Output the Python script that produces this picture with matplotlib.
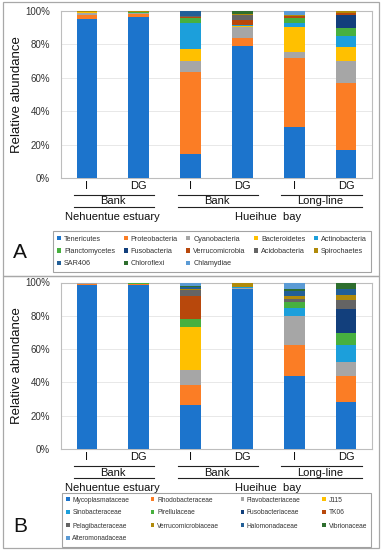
import matplotlib
matplotlib.use("Agg")
import matplotlib.pyplot as plt
from matplotlib.patches import Patch, Rectangle
from matplotlib.ticker import FuncFormatter
import matplotlib.transforms as mtrans
import numpy as np

plt.rcParams['font.family'] = ['Liberation Sans', 'DejaVu Sans']

# ---------------- data ----------------
sample_labels = ["I", "DG", "I", "DG", "I", "DG"]
method_groups = ["Bank", "Bank", "Long-line"]
method_spans = [(0, 1), (2, 3), (4, 5)]
site_groups = ["Nehuentue estuary", "Hueihue  bay"]
site_spans = [(0, 1), (2, 5)]

phyla = ["Tenericutes", "Proteobacteria", "Cyanobacteria", "Bacteroidetes",
         "Actinobacteria", "Planctomycetes", "Fusobacteria", "Verrucomicrobia",
         "Acidobacteria", "Spirochaetes", "SAR406", "Chloroflexi", "Chlamydiae"]
tenericutes = [95.0, 96.6, 14.3, 79.3, 30.3, 16.5]
proteobacteria = [2.6, 1.6, 49.4, 4.8, 41.6, 40.2]
cyanobacteria = [1.0, 0.4, 6.4, 6.6, 3.4, 13.3]
bacteroidetes = [0.6, 0.4, 7.0, 0.6, 15.0, 8.6]
actinobacteria = [0.1, 0.1, 15.5, 0.3, 2.4, 6.6]
planctomycetes = [0.1, 0.5, 3.0, 0.2, 3.2, 4.6]
fusobacteria = [0.0, 0.0, 0.3, 0.0, 0.0, 7.8]
verrucomicrobia = [0.0, 0.0, 0.5, 3.0, 1.2, 1.0]
acidobacteria = [0.1, 0.1, 0.4, 2.6, 0.2, 0.3]
spirochaetes = [0.4, 0.3, 0.5, 1.0, 0.1, 1.0]
sar406 = [0.0, 0.0, 2.5, 0.0, 0.1, 0.1]
chloroflexi = [0.0, 0.0, 0.1, 1.8, 0.1, 0.1]
chlamydiae = [0.1, 0.0, 0.0, 0.0, 2.6, 0.0]
phyla_values = [tenericutes, proteobacteria, cyanobacteria, bacteroidetes,
                actinobacteria, planctomycetes, fusobacteria, verrucomicrobia,
                acidobacteria, spirochaetes, sar406, chloroflexi, chlamydiae]

families = ["Mycoplasmataceae", "Rhodobacteraceae", "Flavobacteriaceae", "J115",
            "Sinobacteraceae", "Pirellulaceae", "Fusobacteriaceae", "TK06",
            "Pelagibacteraceae", "Verrucomicrobiaceae", "Halomonadaceae",
            "Vibrionaceae", "Alteromonadaceae"]
mycoplasmataceae = [98.6, 98.6, 26.2, 96.0, 44.0, 28.0]
rhodobacteraceae = [0.6, 0.3, 12.4, 0.2, 18.6, 16.0]
flavobacteriaceae = [0.3, 0.3, 9.0, 0.6, 17.4, 8.0]
j115 = [0.1, 0.1, 25.6, 0.0, 0.0, 0.0]
sinobacteraceae = [0.0, 0.0, 0.2, 0.3, 4.6, 10.6]
pirellulaceae = [0.1, 0.4, 4.4, 0.1, 3.4, 7.0]
fusobacteriaceae = [0.0, 0.0, 0.1, 0.0, 0.1, 14.4]
tk06 = [0.0, 0.0, 14.0, 0.0, 0.0, 0.0]
pelagibacteraceae = [0.1, 0.1, 3.6, 0.0, 2.2, 5.6]
verrucomicrobiaceae = [0.1, 0.1, 0.4, 3.0, 1.4, 2.6]
halomonadaceae = [0.0, 0.0, 1.2, 0.0, 3.0, 3.8]
vibrionaceae = [0.0, 0.1, 0.8, 0.0, 1.6, 4.0]
alteromonadaceae = [0.1, 0.0, 2.0, 0.0, 3.8, 0.0]
family_values = [mycoplasmataceae, rhodobacteraceae, flavobacteriaceae, j115,
                 sinobacteraceae, pirellulaceae, fusobacteriaceae, tk06,
                 pelagibacteraceae, verrucomicrobiaceae, halomonadaceae,
                 vibrionaceae, alteromonadaceae]

colors = ["#1c74cc", "#fb7d25", "#a6a6a6", "#ffc000", "#1c9fdb", "#47b03f",
          "#123f7c", "#b8480c", "#646464", "#b08a0a", "#225f97", "#2e6e2e",
          "#5b9bd5"]

# ---------------- figure ----------------
W, H = 381, 550
fig = plt.figure(figsize=(W / 100, H / 100), dpi=100)

def fx(px):
    return px / W

def fy(py):
    return 1 - py / H

# panel frames
for (top, bot) in [(2, 276), (276, 548)]:
    fig.patches.append(Rectangle((fx(3), fy(bot)), fx(379) - fx(3), fy(top) - fy(bot),
                                 transform=fig.transFigure, fill=False,
                                 edgecolor="#a8a8a8", linewidth=0.9))

def row_to_col_order(items, ncol):
    # legend is read row by row in the reference; matplotlib fills column by column
    return [items[i] for c in range(ncol) for i in range(c, len(items), ncol)]

def draw_panel(ax_rect, names, values, legend_rect, ncol, leg_fs, leg_spacing, letter, letter_xy):
    ax = fig.add_axes(ax_rect)
    x = np.arange(len(sample_labels))
    bottom = np.zeros(len(sample_labels))
    handles = []
    for name, vals, c in zip(names, values, colors):
        v = np.array(vals, dtype=float)
        ax.bar(x, v, width=0.4, bottom=bottom, color=c, linewidth=0, zorder=3)
        bottom += v
        handles.append(Patch(facecolor=c, edgecolor='none', label=name))
    ax.set_xlim(-0.5, len(sample_labels) - 0.5)
    ax.set_ylim(0, 100)
    ax.set_yticks(np.arange(0, 101, 20))
    ax.yaxis.set_major_formatter(FuncFormatter(lambda v, p: f"{int(v)}%"))
    ax.tick_params(axis='y', length=0, labelsize=7, pad=8, colors="#333333")
    ax.set_xticks(x)
    ax.set_xticklabels(sample_labels, fontsize=8, color="#111111")
    ax.tick_params(axis='x', length=0, pad=2)
    ax.grid(axis='y', color="#e4e4e4", linewidth=0.6, zorder=0)
    for s in ax.spines.values():
        s.set_color("#bdbdbd")
        s.set_linewidth(0.8)
    ax.set_ylabel("Relative abundance", fontsize=9.5, color="#111111")
    ax.yaxis.set_label_coords((23 - 61) / (ax_rect[2] * W), 0.5)

    ax_h_px = ax_rect[3] * H
    trans = mtrans.blended_transform_factory(ax.transData, ax.transAxes)

    def ya(px):
        return -px / ax_h_px

    for (a, b) in method_spans:
        ax.plot([a - 0.25, b + 0.3], [ya(17), ya(17)], transform=trans, color="#222222",
                lw=0.8, clip_on=False)
    for name, (a, b) in zip(method_groups, method_spans):
        ax.text((a + b) / 2, ya(23.5), name, transform=trans, ha='center', va='center',
                fontsize=8, color="#111111")
    for (a, b) in site_spans:
        ax.plot([a - 0.25, b + 0.3], [ya(28.5), ya(28.5)], transform=trans, color="#222222",
                lw=0.8, clip_on=False)
    for name, (a, b) in zip(site_groups, site_spans):
        ax.text((a + b) / 2, ya(38.5), name, transform=trans, ha='center', va='center',
                fontsize=8, color="#111111")

    leg = fig.legend(handles=row_to_col_order(handles, ncol), loc='center',
                     bbox_to_anchor=legend_rect,
                     bbox_transform=fig.transFigure, mode='expand', ncol=ncol,
                     fontsize=leg_fs, frameon=True, fancybox=False,
                     handlelength=0.55, handleheight=0.55, handletextpad=0.4,
                     labelspacing=leg_spacing, borderpad=0.6, borderaxespad=0)
    leg.get_frame().set_edgecolor("#8c8c8c")
    leg.get_frame().set_linewidth(0.8)
    for t in leg.get_texts():
        t.set_color("#333333")

    fig.text(letter_xy[0], letter_xy[1], letter, fontsize=15, ha='center', va='center',
             color="#111111")
    return ax

axA_rect = [fx(61), fy(178), fx(372) - fx(61), fy(11) - fy(178)]
axB_rect = [fx(61), fy(449), fx(372) - fx(61), fy(282.5) - fy(449)]

draw_panel(axA_rect, phyla, phyla_values,
           (fx(53), fy(269), fx(371) - fx(53), fy(234) - fy(269)),
           5, 5.2, 0.75, "A", (fx(20), fy(252)))
draw_panel(axB_rect, families, family_values,
           (fx(62), fy(542), fx(371) - fx(62), fy(497) - fy(542)),
           4, 4.8, 0.9, "B", (fx(20), fy(526)))

fig.savefig("out.png", dpi=100)
